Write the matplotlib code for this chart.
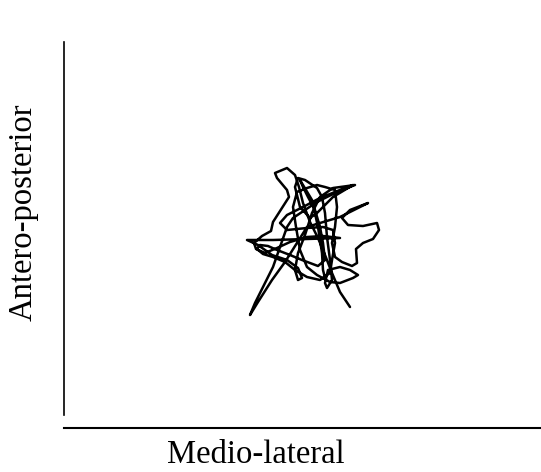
import matplotlib
matplotlib.use("Agg")
import matplotlib.pyplot as plt

# Centre-of-pressure trace (arbitrary units)
ml = [35, 25, 17, 10, 3, -5, -12, -16, -20, -28, -40, -38, -28, -26, -33, -42, -44, -53, -61, -59,
      -50, -38, -25, -8, 8, 25, -8, -42, -68, -57, -43, -28, -17, -13, -17, -20, -17, -10, -3, 5,
      18, 40, 22, 2, -22, -28, -35, -42, -52, -60, -65, -57, -43, -30, -18, -8, 5, 25, 53, 35,
      27, 33, 48, 62, 64, 58, 48, 41, 42, 37, 27, 20, 17, 20, 22, 20, 10, 2, -8, -18,
      -22, -19, -15, -8, 2, 15, 25, 38, 43,
      35, 25, 13, 10, 12, 17, 15, 12, 10, 7, 2, -10, -17, -20, -15, -5, 2, 18, 38, 25,
      5, -12, -28, -35, -28, -8, 8, 18, 20, 17, 15,
      5, -8, -20, -30, -42, -52, -58, -55, -47, -38, -25, -13, -5, 3, 10, 8, 5, 0, -7, -12,
      -15, -12, -3, 3, 7, 8, 10]
ap = [-62, -47, -28, -10, 7, 23, 42, 58, 70, 77, 72, 67, 55, 48, 37, 23, 14, 9, 2, -4,
      -8, -3, 3, 8, 9, 7, 6, 5, 5, 0, -10, -15, -23, -33, -35, -25, -8, 10, 32, 48,
      57, 60, 53, 43, 27, 18, -2, -22, -42, -58, -70, -57, -35, -17, 2, 18, 22, 28, 42, 35,
      27, 20, 19, 22, 15, 6, 2, -4, -18, -21, -17, -12, 2, 18, 38, 55, 58, 60, 57, 53,
      38, 18, -5, -22, -30, -37, -38, -33, -30,
      -25, -22, -25, -38, -43, -35, -15, 8, 32, 48, 57, 65, 67, 58, 38, 27, 32, 48, 60, 55,
      47, 38, 30, 22, 15, 17, 18, 15, 2, -15, -28,
      -35, -32, -25, -17, -12, -9, -4, 0, -1, -5, -10, -15, -18, -21, -15, 2, 18, 35, 48, 58,
      65, 60, 45, 18, -8, -25, -33]

x_label = "Medio-lateral"
y_label = "Antero-posterior"

fig = plt.figure(figsize=(5.41, 4.72), dpi=100)
ax = fig.add_axes([64/541, 44/472, 476/541, 386/472])
ax.plot(ml, ap, color="black", lw=1.8, solid_joinstyle="round", solid_capstyle="round")
ax.set_xlim(-251, 225)
ax.set_ylim(-183, 203)
ax.set_xticks([])
ax.set_yticks([])
for s in ["top", "right"]:
    ax.spines[s].set_visible(False)
ax.spines["left"].set_bounds(-170, 203)
ax.spines["left"].set_linewidth(1.2)
ax.spines["bottom"].set_linewidth(1.5)

fig.text(256/541, 1 - 455/472, x_label, ha="center", va="center",
         family="Liberation Serif", fontsize=23.5)
fig.text(23/541, 1 - 212/472, y_label, ha="center", va="center", rotation=90,
         family="Liberation Serif", fontsize=23.5)

fig.savefig("out.png", dpi=100)
